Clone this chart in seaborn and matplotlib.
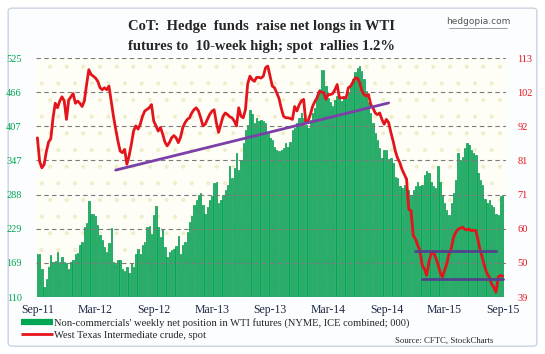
import numpy as np
import pandas as pd
import seaborn as sns
import matplotlib.pyplot as plt
from matplotlib.lines import Line2D
from matplotlib.patches import FancyBboxPatch, Rectangle

# weekly CoT report dates
weeks = pd.date_range("2011-09-06", periods=209, freq="7D")

# non-commercials' net longs in WTI futures (000 contracts)
net_longs = [
    185, 185, 158, 127, 142, 162, 183, 171, 173, 188, 171, 179, 171, 169, 158, 171,
    175, 184, 187, 200, 206, 232, 238, 276, 254, 254, 250, 235, 218, 209, 197, 188,
    203, 230, 171, 167, 174, 175, 159, 156, 162, 151, 169, 162, 185, 194, 185, 200,
    206, 232, 233, 220, 252, 268, 232, 215, 228, 196, 180, 188, 191, 194, 199, 216,
    185, 200, 206, 223, 241, 250, 270, 279, 287, 290, 270, 255, 267, 279, 285, 308,
    310, 273, 279, 287, 296, 305, 337, 316, 334, 360, 331, 348, 377, 400, 409, 435,
    427, 412, 421, 415, 418, 415, 412, 395, 386, 383, 371, 366, 363, 366, 369, 377,
    371, 380, 400, 403, 412, 421, 430, 421, 409, 403, 418, 430, 438, 459, 471, 505,
    505, 476, 456, 448, 442, 453, 459, 456, 450, 459, 456, 465, 476, 488, 500, 508,
    511, 502, 488, 467, 448, 430, 412, 395, 383, 369, 351, 366, 366, 350, 351, 343,
    319, 316, 302, 299, 305, 316, 296, 287, 296, 302, 310, 302, 305, 322, 328, 325,
    310, 302, 299, 337, 310, 287, 273, 261, 252, 273, 290, 313, 360, 348, 354, 369,
    377, 374, 366, 360, 357, 325, 313, 305, 281, 273, 279, 270, 267, 255, 252, 285,
    287,
]

# West Texas Intermediate crude, spot ($/bbl)
wti_spot = [
    88.3, 81.0, 79.0, 80.0, 84.0, 87.0, 88.0, 94.5, 99.0, 97.6, 99.7, 101.0, 99.7, 94.0,
    100.0, 101.0, 102.0, 99.0, 99.7, 99.0, 98.0, 99.7, 104.8, 109.4, 107.9, 107.4, 106.8,
    105.8, 103.8, 103.2, 103.8, 103.2, 104.3, 99.7, 95.0, 91.0, 87.3, 84.2, 83.7, 84.7,
    80.1, 82.7, 86.3, 90.4, 92.0, 91.0, 92.5, 95.0, 96.6, 97.1, 97.6, 98.6, 93.5, 92.0,
    90.4, 91.5, 89.5, 87.0, 85.8, 86.8, 88.3, 89.0, 88.3, 86.8, 88.5, 91.5, 93.0, 94.0,
    94.5, 96.0, 97.0, 97.6, 96.6, 94.5, 92.0, 92.5, 94.0, 95.5, 96.5, 97.0, 93.0, 90.0,
    92.5, 95.0, 96.0, 95.5, 94.8, 94.5, 93.5, 92.0, 97.6, 95.0, 94.5, 97.0, 105.0, 107.4,
    106.3, 105.8, 107.0, 107.0, 106.8, 107.4, 110.0, 110.5, 107.4, 104.3, 103.8, 102.2,
    100.5, 97.5, 95.0, 94.5, 94.5, 94.3, 94.0, 98.0, 96.6, 98.5, 99.7, 100.2, 93.0, 93.5,
    95.5, 98.0, 99.5, 100.7, 102.7, 102.5, 102.2, 100.2, 101.7, 101.7, 102.0, 103.2,
    104.8, 100.7, 100.7, 100.7, 100.7, 103.8, 104.3, 105.5, 106.8, 106.8, 105.5, 103.0,
    101.7, 101.2, 101.7, 98.6, 97.6, 96.0, 95.5, 96.0, 94.0, 92.5, 94.0, 93.0, 90.0, 87.3,
    84.2, 82.0, 80.6, 78.5, 77.0, 75.5, 66.2, 65.7, 58.0, 57.0, 55.0, 53.4, 48.8, 47.7,
    45.7, 49.8, 52.4, 52.9, 51.3, 49.3, 46.7, 45.2, 47.2, 49.3, 52.4, 54.0, 57.5, 59.0,
    60.0, 60.3, 60.6, 60.0, 59.8, 60.0, 59.5, 59.7, 59.5, 56.5, 53.4, 50.8, 48.3, 46.2,
    45.2, 43.0, 42.0, 40.5, 45.2, 45.7, 45.4,
]

left_labels = [110, 169, 229, 288, 347, 407, 466, 525]
right_labels = [39, 50, 60, 71, 81, 92, 102, 113]

# hand-drawn annotation lines (week index, spot price)
trend_weeks = [35, 157]
trend_price = [78.3, 99.1]
upper_weeks = [169, 205]
upper_price = [53.4, 53.4]
lower_weeks = [172, 208]
lower_price = [44.7, 44.7]

GREEN = "#00a651"
RED = "#e3141b"

sns.set_style("white")
plt.rcParams["font.family"] = ["Liberation Serif", "DejaVu Serif"]
plt.rcParams["hatch.linewidth"] = 0.5

fig = plt.figure(figsize=(5.45, 3.54), dpi=100)
fig.patch.set_facecolor("white")
fig.patches.append(FancyBboxPatch((0.015, 0.022), 0.97, 0.955, transform=fig.transFigure,
                                  boxstyle="round,pad=0,rounding_size=0.008",
                                  facecolor="#fcfdff", edgecolor="#c9d4e2", lw=1.0,
                                  zorder=-5))

ax = fig.add_axes([0.0653, 0.161, 0.8637, 0.675])
x = np.arange(len(weeks))
ax.set_facecolor("none")
ax.add_patch(Rectangle((0, 0), 1, 1, transform=ax.transAxes, facecolor="#fefef6",
                       edgecolor="#efeecb", hatch=".", lw=0, zorder=0))

sns.barplot(x=x, y=net_longs, ax=ax, native_scale=True, color="#28b46c",
            width=0.62, errorbar=None, saturation=1, edgecolor="#009a4c",
            linewidth=0.5, zorder=1)

ax.set_ylim(110, 525)
ax.set_xlim(-0.8, 209.6)
ax.set_yticks(np.linspace(110, 525, 8), labels=left_labels)
ax.tick_params(axis="y", colors=GREEN, labelsize=7.5, length=0, pad=10)

tick_idx = [i for i, d in enumerate(weeks) if d.month in (3, 9) and d.day <= 7]
ax.set_xticks(tick_idx, labels=[weeks[i].strftime("%b-%y") for i in tick_idx])
ax.tick_params(axis="x", colors="#1f2a44", labelsize=8.5, length=0, pad=5)
ax.grid(axis="y", color="#7a7a7a", linestyle=(0, (4, 3)), linewidth=0.8)
ax.set_axisbelow(False)
ax.set_xlabel("")
ax.set_ylabel("")
for s in ax.spines.values():
    s.set_visible(False)

ax2 = ax.twinx()
sns.lineplot(x=x, y=wti_spot, ax=ax2, color=RED, linewidth=2.0, zorder=3)
ax2.plot(trend_weeks, trend_price, color="#7b3fa8", linewidth=2.0, zorder=4)
ax2.plot(upper_weeks, upper_price, color="#52428c", linewidth=2.0, zorder=4)
ax2.plot(lower_weeks, lower_price, color="#52428c", linewidth=2.0, zorder=4)
ax2.set_ylim(39, 113)
ax2.set_yticks(np.linspace(39, 113, 8), labels=right_labels)
ax2.tick_params(axis="y", colors=RED, labelsize=7.5, length=0, pad=8)
ax2.set_ylabel("")
for s in ax2.spines.values():
    s.set_visible(False)

fig.text(0.48, 0.925, "CoT:  Hedge  funds  raise net longs in WTI",
         ha="center", va="center", fontsize=10.5, fontweight="bold")
fig.text(0.48, 0.868, "futures to  10-week high; spot  rallies 1.2%",
         ha="center", va="center", fontsize=10.5, fontweight="bold")
fig.text(0.877, 0.94, "hedgopia.com", ha="center", va="center",
         fontsize=6.5, color="#555555", family=["DejaVu Sans"])
fig.add_artist(Line2D([0.823, 0.931], [0.922, 0.922],
                      transform=fig.transFigure, color="#777777", lw=0.5))

handles = [Line2D([], [], color=GREEN, lw=4.5, solid_capstyle="butt"),
           Line2D([], [], color=RED, lw=2, solid_capstyle="butt")]
fig.legend(handles,
           ["Non-commercials' weekly net position in WTI futures (NYME, ICE combined; 000)",
            "West Texas Intermediate crude, spot"],
           loc="lower left", bbox_to_anchor=(0.025, 0.02), frameon=False, fontsize=7.6,
           handlelength=3.0, handletextpad=0.1, labelspacing=0.25, borderpad=0.2)
fig.text(0.905, 0.038, "Source: CFTC, StockCharts", ha="right", va="center", fontsize=6.3)

fig.savefig("out.png", dpi=100)
